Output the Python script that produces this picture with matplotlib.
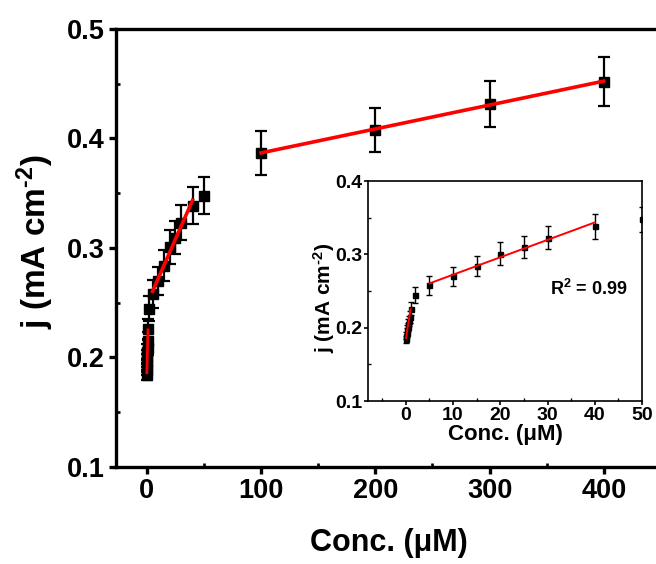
import numpy as np
import matplotlib
matplotlib.use("Agg")
import matplotlib.pyplot as plt
from matplotlib.ticker import MultipleLocator, FormatStrFormatter

plt.rcParams["font.family"] = ["Liberation Sans", "DejaVu Sans"]
plt.rcParams["font.weight"] = "bold"
plt.rcParams["mathtext.fontset"] = "custom"
plt.rcParams["mathtext.rm"] = "Liberation Sans:bold"
plt.rcParams["mathtext.bf"] = "Liberation Sans:bold"
plt.rcParams["mathtext.default"] = "bf"

# ===== DATA =====
conc_low = [0.05, 0.1, 0.2, 0.3, 0.4, 0.5, 0.6, 0.8, 1.0, 2, 5, 10, 15, 20, 25, 30, 40, 50]
j_low = [0.184, 0.189, 0.193, 0.197, 0.201, 0.205, 0.209, 0.215, 0.226, 0.2445,
         0.258, 0.270, 0.284, 0.301, 0.3095, 0.323, 0.3386, 0.3477]
err_low = [0.005, 0.005, 0.006, 0.006, 0.006, 0.007, 0.007, 0.008, 0.009, 0.0115,
           0.013, 0.013, 0.014, 0.0155, 0.015, 0.016, 0.017, 0.017]

conc_high = [100, 200, 300, 400]
j_high = [0.387, 0.408, 0.4315, 0.452]
err_high = [0.020, 0.020, 0.021, 0.022]

# linear fit ranges (uM)
fit_ranges = [(0.05, 1.0), (5, 40), (100, 400)]

XLABEL = "Conc. (\u03bcM)"
YLABEL = r"j (mA cm$^{\text{-}2}$)"
R2_TEXT = r"R$^{2}$ = 0.99"

conc = np.array(conc_low + conc_high)
j = np.array(j_low + j_high)
err = np.array(err_low + err_high)


def fit_line(lo, hi):
    m = (conc >= lo) & (conc <= hi)
    p = np.polyfit(conc[m], j[m], 1)
    xs = np.array([lo, hi])
    return xs, np.polyval(p, xs)


def style_axes(ax, lw, major_len, minor_len):
    for s in ax.spines.values():
        s.set_linewidth(lw)
    ax.tick_params(which="major", direction="out", length=major_len, width=lw,
                   top=False, right=False)
    ax.tick_params(which="minor", direction="in", length=minor_len, width=lw * 0.8,
                   top=False, right=False)


fig = plt.figure(figsize=(6.56, 5.64), dpi=100)

# ---- main plot ----
ax = fig.add_axes([0.1768, 0.172, 0.8307, 0.7766])
ax.errorbar(conc, j, yerr=err, fmt="s", color="black", ms=6.5, capsize=4,
            elinewidth=1.6, capthick=1.6, zorder=2)
for i, (lo, hi) in enumerate(fit_ranges):
    xs, ys = fit_line(lo, hi)
    ax.plot(xs, ys, color="red", lw=2.0 if i == 0 else 2.6, zorder=3)

ax.set_xlim(-27, 450)
ax.set_ylim(0.1, 0.5)
ax.xaxis.set_major_locator(MultipleLocator(100))
ax.xaxis.set_minor_locator(MultipleLocator(50))
ax.yaxis.set_major_locator(MultipleLocator(0.1))
ax.yaxis.set_minor_locator(MultipleLocator(0.05))
ax.yaxis.set_major_formatter(FormatStrFormatter("%.1f"))
style_axes(ax, 2.4, 5, 3)
ax.spines["right"].set_visible(False)
ax.tick_params(labelsize=19.5, pad=3)
ax.set_xlabel(XLABEL, fontsize=22, fontweight="bold")
ax.set_ylabel(YLABEL, fontsize=24, fontweight="bold")
ax.xaxis.set_label_coords(0.5, -0.14)
ax.yaxis.set_label_coords(-0.11, 0.515)

# ---- inset ----
ins = fig.add_axes([0.561, 0.289, 0.4177, 0.390])
ins.errorbar(conc, j, yerr=err, fmt="s", color="black", ms=3.6, capsize=2,
             elinewidth=1.0, capthick=1.0, zorder=2)
for lo, hi in fit_ranges[:2]:
    xs, ys = fit_line(lo, hi)
    ins.plot(xs, ys, color="red", lw=1.4, zorder=3)
ins.set_xlim(-8, 50)
ins.set_ylim(0.1, 0.4)
ins.xaxis.set_major_locator(MultipleLocator(10))
ins.xaxis.set_minor_locator(MultipleLocator(5))
ins.yaxis.set_major_locator(MultipleLocator(0.1))
ins.yaxis.set_minor_locator(MultipleLocator(0.05))
ins.yaxis.set_major_formatter(FormatStrFormatter("%.1f"))
style_axes(ins, 1.2, 3, 2)
ins.tick_params(labelsize=14, pad=1)
ins.set_xlabel(XLABEL, fontsize=16, fontweight="bold")
ins.set_ylabel(YLABEL, fontsize=15, fontweight="bold")
ins.xaxis.set_label_coords(0.5, -0.105)
ins.yaxis.set_label_coords(-0.112, 0.47)
ins.text(30.5, 0.2445, R2_TEXT, fontsize=13, fontweight="bold")

fig.savefig("out.png", dpi=100)
